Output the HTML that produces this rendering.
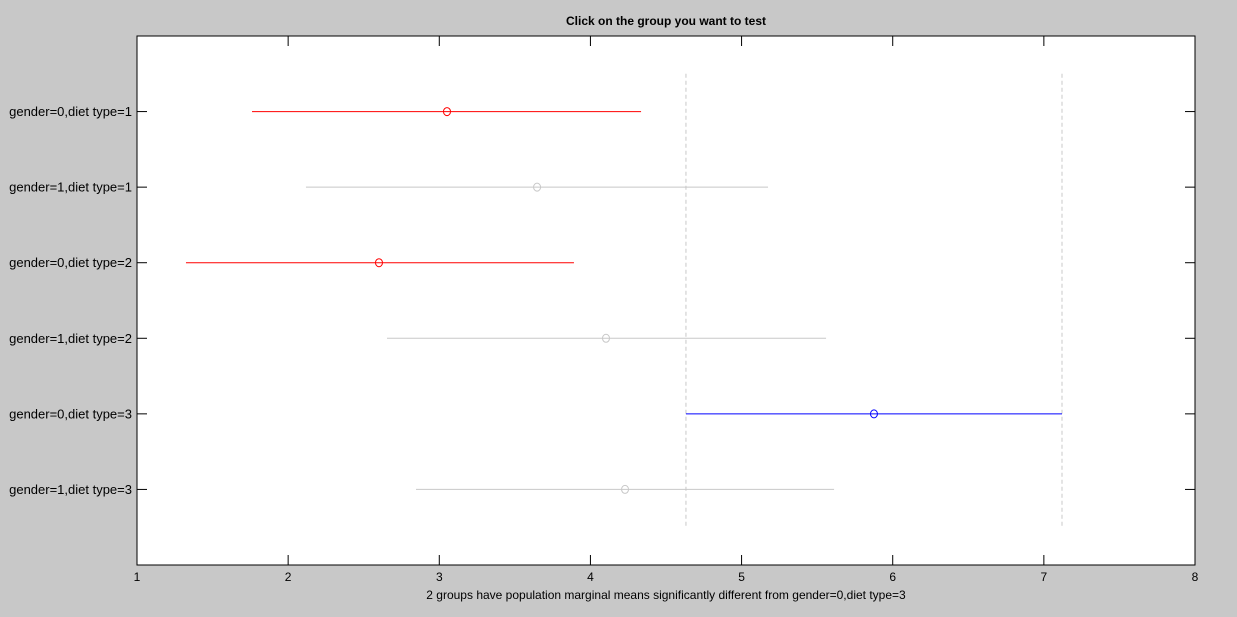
<!DOCTYPE html>
<html><head><meta charset="utf-8"><style>
body{margin:0;background:#c8c8c8;width:1237px;height:612px;overflow:hidden;font-family:"Liberation Sans",Arial,sans-serif}
svg text{font-family:"Liberation Sans",Arial,sans-serif}
</style></head><body>
<svg id="chart" width="1237" height="612" xmlns="http://www.w3.org/2000/svg">
<rect x="0" y="0" width="1237" height="612" fill="#c8c8c8"/>
<text x="666" y="25" text-anchor="middle" font-size="12" font-weight="bold" fill="#000">Click on the group you want to test</text>
<rect x="137" y="36" width="1058" height="529" fill="#fff" stroke="#000" stroke-width="1"/>
<text x="666" y="599" text-anchor="middle" font-size="12" fill="#000">2 groups have population marginal means significantly different from gender=0,diet type=3</text>
<g id="marks"></g>
</svg>
<script>
const groups=["gender=0,diet type=1","gender=1,diet type=1","gender=0,diet type=2","gender=1,diet type=2","gender=0,diet type=3","gender=1,diet type=3"];
const lower=[1.761,2.118,1.324,2.654,4.632,2.846];
const upper=[4.335,5.175,3.891,5.559,7.120,5.612];
const means=[3.051,3.647,2.601,4.103,5.876,4.229];
const status=["diff","none","diff","none","sel","none"];
const xTicks=[1,2,3,4,5,6,7,8];
const selected=4;
const X0=137,X1=1195,Y0=36,Y1=565;
const xs=v=>X0+(v-1)/(8-1)*(X1-X0);
const ys=i=>Y0+(i+1)/7*(Y1-Y0);
const NS="http://www.w3.org/2000/svg";
const g=document.getElementById('marks');
function mk(t,a){const e=document.createElementNS(NS,t);for(const k in a)e.setAttribute(k,a[k]);g.appendChild(e);return e;}
[lower[selected],upper[selected]].forEach((v,k)=>{
 const e=mk('line',{x1:xs(v),x2:xs(v),y1:ys(-0.5),y2:ys(5.5),stroke:'#c8c8c8','stroke-dasharray':'4,3','stroke-width':1});
 
 
});
xTicks.forEach(t=>{
 const x=xs(t);
 const a=mk('line',{x1:x,x2:x,y1:Y1,y2:Y1-10,stroke:'#000'});
 
 
 const b=mk('line',{x1:x,x2:x,y1:Y0,y2:Y0+10,stroke:'#000'});
 
 
 const l=mk('text',{x:x,y:581,'text-anchor':'middle','font-size':12,fill:'#000'});
 l.textContent=t;
 
 
});
const col={diff:'#ff0000',none:'#c8c8c8',sel:'#0000ff'};
groups.forEach((name,i)=>{
 const y=ys(i);
 const a=mk('line',{x1:X0,x2:X0+10,y1:y,y2:y,stroke:'#000'});
 
 
 const b=mk('line',{x1:X1,x2:X1-10,y1:y,y2:y,stroke:'#000'});
 
 
 const l=mk('text',{x:132,y:y+4.5,'text-anchor':'end','font-size':13,fill:'#000'});
 l.textContent=name;
 
 
 const c=col[status[i]];
 const ln=mk('line',{x1:xs(lower[i]),x2:xs(upper[i]),y1:y,y2:y,stroke:c,'stroke-width':1});
 
 
 const m=mk('ellipse',{cx:xs(means[i]),cy:y,rx:3.5,ry:4,fill:'none',stroke:c,'stroke-width':1});
 
 
});
</script>
</body></html>
